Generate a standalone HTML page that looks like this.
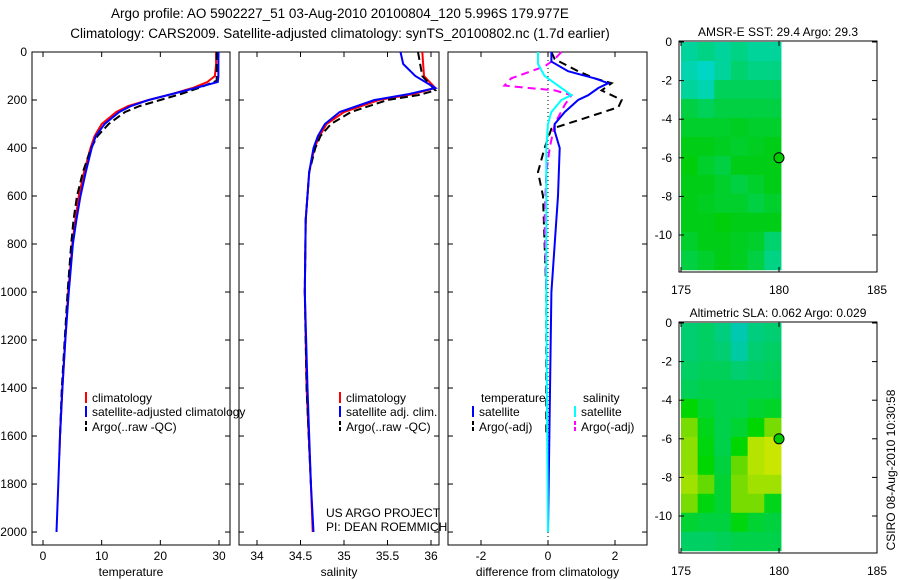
<!DOCTYPE html>
<html><head><meta charset="utf-8"><style>
body{margin:0;background:#fff;}
svg{display:block;font-family:"Liberation Sans",sans-serif;}
text{font-size:12px;fill:#000;}
</style></head><body>
<svg id="c" width="900" height="580" viewBox="0 0 900 580"></svg>
<script>
// ---- data ----
const depthRange=[0,2054];
const tempTicks=[0,10,20,30];
const salTicks=[34,34.5,35,35.5,36];
const diffTicks=[-2,0,2];
const depthTicks=[0,200,400,600,800,1000,1200,1400,1600,1800,2000];
const climTempDepth=[0,50,100,125,150,175,200,225,250,300,350,400,500,600,700,800,1000,1200,1400,1600,1680];
const climTemp=[29.5,29.5,29.3,28,25.5,22,18,14.5,12.5,10,8.8,8.1,7,6.1,5.5,5,4.3,3.8,3.3,2.9,2.8];
const satTempDepth=[0,100,125,150,175,200,225,250,300,350,400,500,600,700,800,1000,1200,1400,1600,1800,2000];
const satTemp=[29.9,29.9,29.8,26,22,18,15,13,10.5,9,8.3,7.3,6.4,5.7,5.1,4.4,3.8,3.3,2.9,2.6,2.3];
const argoTempDepth=[0,120,150,175,200,225,250,300,350,400,500,600,700,800,1000,1200,1400,1600];
const argoTemp=[29.6,29.6,26.5,23.5,20,16.5,14,11.2,9.3,8.2,6.8,5.8,5.2,4.8,4.2,3.7,3.2,2.9];
const climSalDepth=[0,100,150,175,200,250,300,350,400,500,700,1000,1400,1800,2000];
const climSal=[35.9,35.92,36.05,35.8,35.4,35.0,34.8,34.72,34.66,34.6,34.56,34.55,34.57,34.62,34.64];
const satSalDepth=[0,50,100,150,175,200,250,300,350,400,500,700,1000,1400,1800,2000];
const satSal=[35.65,35.68,35.82,36.05,35.75,35.35,34.95,34.78,34.7,34.65,34.6,34.56,34.55,34.58,34.62,34.65];
const argoSalDepth=[0,100,160,180,200,250,300,350,400,500,700,1000,1400,1800];
const argoSal=[35.85,35.9,36.05,35.85,35.5,35.08,34.85,34.73,34.67,34.6,34.56,34.55,34.57,34.62];
const dTempDepth=[0,40,80,110,130,150,180,200,250,300,330,400,600,800,1000,1500,2000];
const dTempSat=[0.1,0.1,0.6,1.4,1.8,1.5,1.2,0.9,0.5,0.2,0.2,0.35,0.3,0.2,0.1,0.05,0.0];
const dTempArgoDepth=[0,30,80,110,130,160,200,230,280,320,400,500,600,800,1000,1300,1600];
const dTempArgo=[0.1,0.2,0.9,1.4,1.9,1.6,2.2,2.1,1.0,0.1,-0.1,-0.3,-0.15,-0.1,-0.05,-0.05,-0.05];
const dSalDepth=[0,50,100,140,180,200,250,300,400,600,1000,1500,2000];
const dSalSat=[-0.3,-0.3,-0.1,0.3,0.7,0.4,0.1,0.0,-0.05,-0.05,-0.05,-0.03,0.0];
const dSalArgoDepth=[0,30,60,110,140,160,180,220,300,400,500,700,1000];
const dSalArgo=[0.4,0.2,-0.1,-1.1,-1.3,0.2,0.7,0.5,0.2,0.05,-0.05,-0.1,-0.05];
const mapLatTicks=[0,-2,-4,-6,-8,-10];
const mapLonTicks=[175,180,185];
const sstGrid=[
[0.7,0.6,0.7,0.6,0.7,0.7],[0.8,0.9,0.7,0.5,0.6,0.6],[0.7,0.8,0.4,0.4,0.4,0.4],[0.3,0.4,0.3,0.3,0.3,0.3],
[0.2,0.2,0.2,0.15,0.2,0.2],[0.1,0.1,0.15,0.2,0.15,0.1],[0.05,0.2,0.3,0.1,0.1,0.1],[0.1,0.1,0.2,0.3,0.2,0.1],
[0.1,0.15,0.2,0.2,0.3,0.2],[0.1,0.1,0.05,0.1,0.1,0.1],[0.2,0.1,0.1,0.15,0.2,0.5],[0.3,0.2,0.1,0.15,0.3,0.6]];
const slaGrid=[
[0.45,0.4,0.5,0.7,0.5,0.45],[0.45,0.4,0.45,0.65,0.45,0.4],[0.4,0.35,0.35,0.45,0.4,0.35],[0.35,0.3,0.3,0.3,0.3,0.3],
[0.0,0.2,0.3,0.3,0.2,0.15],[-0.1,0.1,0.3,0.2,0.0,-0.1],[-0.15,0.05,0.3,0.0,-0.25,-0.3],[-0.15,0.0,0.25,-0.05,-0.25,-0.3],
[-0.2,-0.05,0.2,-0.1,-0.2,-0.2],[-0.1,0.05,0.2,-0.1,-0.1,0.1],[0.2,0.25,0.25,0.05,0.2,0.25],[0.4,0.4,0.35,0.3,0.3,0.3]];

// ---- helpers ----
const S=document.getElementById('c');const NS='http://www.w3.org/2000/svg';
function el(t,a,p){const e=document.createElementNS(NS,t);for(const k in a)e.setAttribute(k,a[k]);(p||S).appendChild(e);return e;}
function txt(x,y,s,anchor,p){const t=el('text',{x:x,y:y,'text-anchor':anchor||'start'},p);t.textContent=s;return t;}
const dy=d=>52+(d-depthRange[0])*(545-52)/(depthRange[1]-depthRange[0]);
const panels=[
 {x0:32,x1:230,v0:0,p0:43,k:(219-43)/30,ticks:tempTicks,label:'temperature',name:'temperature-panel'},
 {x0:239,x1:439,v0:34,p0:257,k:(431-257)/2,ticks:salTicks,label:'salinity',name:'salinity-panel'},
 {x0:448,x1:647,v0:0,p0:548,k:(615-548)/2,ticks:diffTicks,label:'difference from climatology',name:'difference-panel'}];
function px(P,v){return P.p0+(v-P.v0)*P.k;}
function series(P,ds,vs,color,dash,name,w){
 const pts=ds.map((d,i)=>px(P,vs[i]).toFixed(1)+','+dy(d).toFixed(1)).join(' ');
 const l=el('polyline',{points:pts,fill:'none',stroke:color,'stroke-width':w||2,'stroke-dasharray':dash||'none'});
 
 
}
txt(340,18,'Argo profile: AO 5902227_51 03-Aug-2010 20100804_120 5.996S 179.977E','middle').setAttribute('style','font-size:13.5px');
txt(340,38,'Climatology: CARS2009. Satellite-adjusted climatology: synTS_20100802.nc (1.7d earlier)','middle').setAttribute('style','font-size:13.5px');
panels.forEach((P,pi)=>{
 const g=el('g',{});
 
 
 el('rect',{x:P.x0,y:52,width:P.x1-P.x0,height:493,fill:'#fff',stroke:'#000','stroke-width':1},g);
 P.ticks.forEach(t=>{const x=px(P,t);el('line',{x1:x,x2:x,y1:52,y2:57,stroke:'#000'},g);el('line',{x1:x,x2:x,y1:545,y2:540,stroke:'#000'},g);txt(x,560,String(t),'middle',g);});
 depthTicks.forEach(d=>{const y=dy(d);el('line',{x1:P.x0,x2:P.x0+5,y1:y,y2:y,stroke:'#000'},g);el('line',{x1:P.x1,x2:P.x1-5,y1:y,y2:y,stroke:'#000'},g);if(pi==0)txt(27,y+4,String(d),'end',g);});
 txt((P.x0+P.x1)/2,576,P.label,'middle',g);
});
const [PT,PS,PD]=panels;
series(PT,climTempDepth,climTemp,'#f00',null,'temp-climatology-line');
series(PT,argoTempDepth,argoTemp,'#000','8,4','temp-argo-line');
series(PT,satTempDepth,satTemp,'#00f',null,'temp-satellite-line');
series(PS,climSalDepth,climSal,'#f00',null,'sal-climatology-line');
series(PS,argoSalDepth,argoSal,'#000','8,4','sal-argo-line');
series(PS,satSalDepth,satSal,'#00f',null,'sal-satellite-line');
el('line',{x1:px(PD,0),x2:px(PD,0),y1:52,y2:545,stroke:'#000','stroke-dasharray':'1,3'});
series(PD,dTempArgoDepth,dTempArgo,'#000','8,5','diff-temp-argo-line');
series(PD,dSalArgoDepth,dSalArgo,'#f0f','8,5','diff-sal-argo-line');
series(PD,dTempDepth,dTempSat,'#00f',null,'diff-temp-satellite-line');
series(PD,dSalDepth,dSalSat,'#0ff',null,'diff-sal-satellite-line');
// legends
function leg(x,y,c,dash,s,name){const g=el('g',{});
 el('line',{x1:x,x2:x,y1:y-10,y2:y+1,stroke:c,'stroke-width':2,'stroke-dasharray':dash||'none'},g);txt(x+6,y,s,'start',g);}
leg(86,402,'#f00',null,'climatology','legend-climatology');
leg(86,416,'#00f',null,'satellite-adjusted climatology','legend-satellite');
leg(86,431,'#000','4,2','Argo(..raw -QC)','legend-argo');
leg(340,402,'#f00',null,'climatology','legend2-climatology');
leg(340,416,'#00f',null,'satellite adj. clim.','legend2-satellite');
leg(340,431,'#000','4,2','Argo(..raw -QC)','legend2-argo');
txt(481,402,'temperature');txt(583,402,'salinity');
leg(473,416,'#00f',null,'satellite','legend3-temp-satellite');
leg(473,431,'#000','4,2','Argo(-adj)','legend3-temp-argo');
leg(575,416,'#0ff',null,'satellite','legend3-sal-satellite');
leg(575,431,'#f0f','4,2','Argo(-adj)','legend3-sal-argo');
txt(326,517,'US ARGO PROJECT');txt(326,531,'PI: DEAN ROEMMICH');
// maps
function cmapSST(v){return `rgb(0,${Math.round(205+10*v)},${Math.round(v*220)})`;}
function cmapSLA(v){if(v<0){const t=Math.min(1,-v/0.3);return `rgb(${Math.round(80+120*t)},${Math.round(215+15*t)},0)`;}return `rgb(0,${Math.round(215-20*v)},${Math.round(v*250)})`;}
function map(top,title,grid,cm,name){
 const g=el('g',{});
 const lx=v=>681+(v-175)*(877-681)/10;
 const ky=v=>top+(-v)*19.3;
 txt(778,top-6,title,'middle',g);
 el('rect',{x:679,y:top-1,width:198,height:231,fill:'#fff',stroke:'#000'},g);
 const rows=grid.length,cols=grid[0].length,cw=(lx(180.1)-lx(175))/cols,ch=(ky(-11.8)-ky(0))/rows;
 grid.forEach((r,i)=>r.forEach((v,j)=>{const c=el('rect',{x:lx(175)+j*cw,y:ky(0)+i*ch,width:cw+0.5,height:ch+0.5,fill:cm(v)},g);
  }));
 mapLatTicks.forEach(t=>{const y=ky(t);el('line',{x1:679,x2:684,y1:y,y2:y,stroke:'#000'},g);el('line',{x1:877,x2:872,y1:y,y2:y,stroke:'#000'},g);txt(672,y+4,String(t),'end',g);});
 mapLonTicks.forEach(t=>{const x=lx(t);el('line',{x1:x,x2:x,y1:top+230,y2:top+225,stroke:'#000'},g);el('line',{x1:x,x2:x,y1:top-1,y2:top+4,stroke:'#000'},g);txt(x,top+252,String(t),'middle',g);});
 el('circle',{cx:lx(180),cy:ky(-6),r:5,fill:'#0c0',stroke:'#000'},g);
}
map(42,'AMSR-E SST: 29.4 Argo: 29.3',sstGrid,cmapSST,'sst-map');
map(323,'Altimetric SLA: 0.062 Argo: 0.029',slaGrid,cmapSLA,'sla-map');
const r=txt(0,0,'CSIRO 08-Aug-2010 10:30:58','middle');r.setAttribute('transform','translate(895,470) rotate(-90)');
</script>
</body></html>
